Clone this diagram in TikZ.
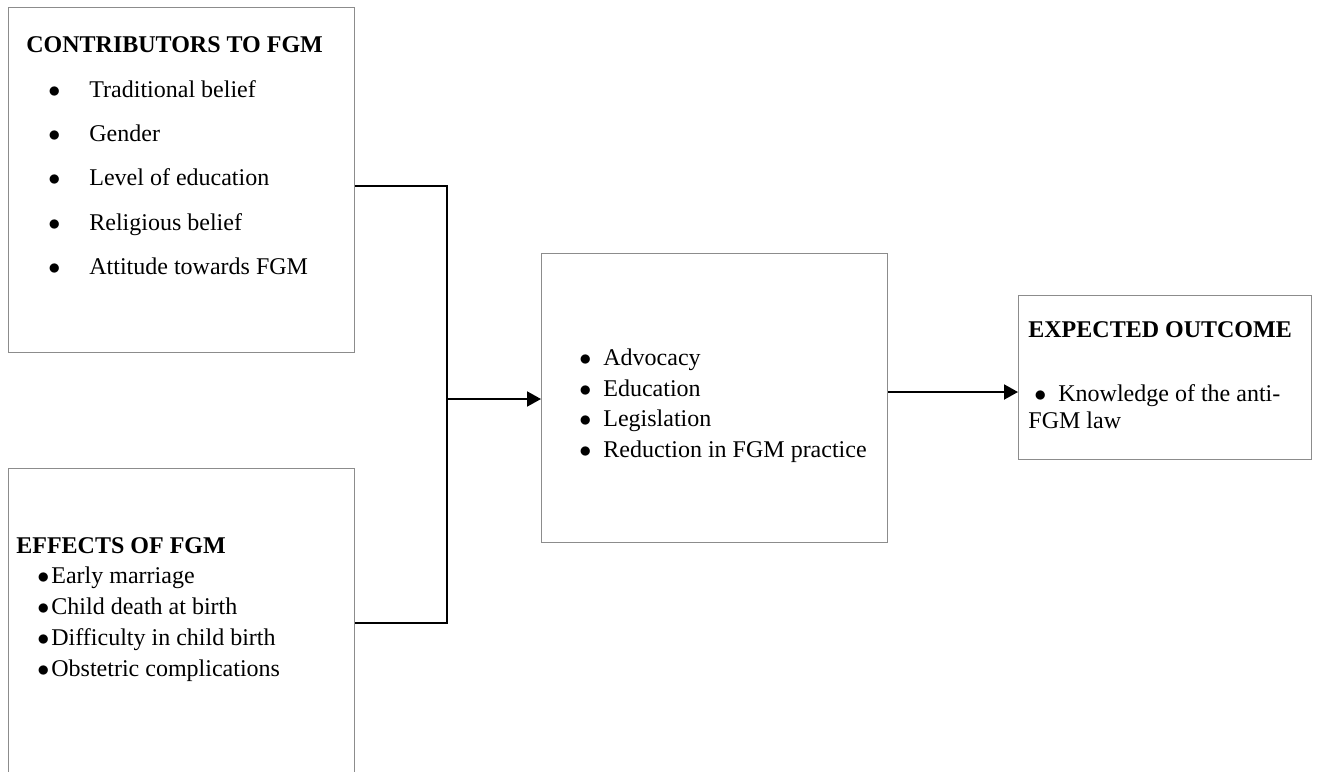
\documentclass[tikz,border=0pt]{standalone}
\usepackage{fontspec}
\setmainfont{Liberation Serif}
\usetikzlibrary{arrows.meta}

% bullet centred on the anchor, then a gap before the text
\newcommand{\bul}[1]{\makebox[0pt][c]{$\bullet$}\hspace{#1}}

\begin{document}
\begin{tikzpicture}[x=0.5pt,y=-0.5pt,font=\fontsize{12}{14}\selectfont]
    \tikzset{
        box/.style = {rectangle, draw=black!45, line width=0.5pt, anchor=north west, inner sep=0pt},
        txt/.style = {anchor=base west, inner sep=0pt},
        link/.style = {line width=1pt},
        arrow/.style = {line width=1pt, -{Triangle[length=7pt,width=7.5pt]}},
    }
    \clip (0,0) rectangle (1317,771);

    % boxes
    \node [box, minimum width=173pt, minimum height=172.5pt] (contrib) at (8,7) {};
    \node [box, minimum width=173pt, minimum height=154pt] (effects) at (8,468) {};
    \node [box, minimum width=173pt, minimum height=144.5pt] (action) at (541,253) {};
    \node [box, minimum width=146.5pt, minimum height=82pt] (outcome) at (1018,295) {};

    % contributors
    \node [txt] (ch) at (26,52) {\textbf{CONTRIBUTORS TO FGM}};
    \node [txt] (c1) at (54,97) {\bul{17.5pt}Traditional belief};
    \node [txt] (c2) at (54,141) {\bul{17.5pt}Gender};
    \node [txt] (c3) at (54,185) {\bul{17.5pt}Level of education};
    \node [txt] (c4) at (54,230) {\bul{17.5pt}Religious belief};
    \node [txt] (c5) at (54,274) {\bul{17.5pt}Attitude towards FGM};

    % effects
    \node [txt] (eh) at (16,553) {\textbf{EFFECTS OF FGM}};
    \node [txt] (e1) at (43,583) {\bul{4pt}Early marriage};
    \node [txt] (e2) at (43,614) {\bul{4pt}Child death at birth};
    \node [txt] (e3) at (43,645) {\bul{4pt}Difficulty in child birth};
    \node [txt] (e4) at (43,676) {\bul{4pt}Obstetric complications};

    % interventions
    \node [txt] (a1) at (585,365) {\bul{9pt}Advocacy};
    \node [txt] (a2) at (585,396) {\bul{9pt}Education};
    \node [txt] (a3) at (585,426) {\bul{9pt}Legislation};
    \node [txt] (a4) at (585,457) {\bul{9pt}Reduction in FGM practice};

    % outcome
    \node [txt] (oh) at (1028,337) {\textbf{EXPECTED OUTCOME}};
    \node [txt] (o1) at (1040,401) {\bul{9pt}Knowledge of the anti-};
    \node [txt] (o2) at (1028,428) {FGM law};

    % connectors
    \coordinate (join) at (447,399);
    \coordinate (out) at (887,392);
    \draw[link] ([yshift=-2.75pt]contrib.east) -| (join);
    \draw[link] (effects.east) -| (join);
    \draw[arrow] (join) -- (action.west |- join);
    \draw[arrow] (action.east |- out) -- (outcome.west |- out);
\end{tikzpicture}
\end{document}
